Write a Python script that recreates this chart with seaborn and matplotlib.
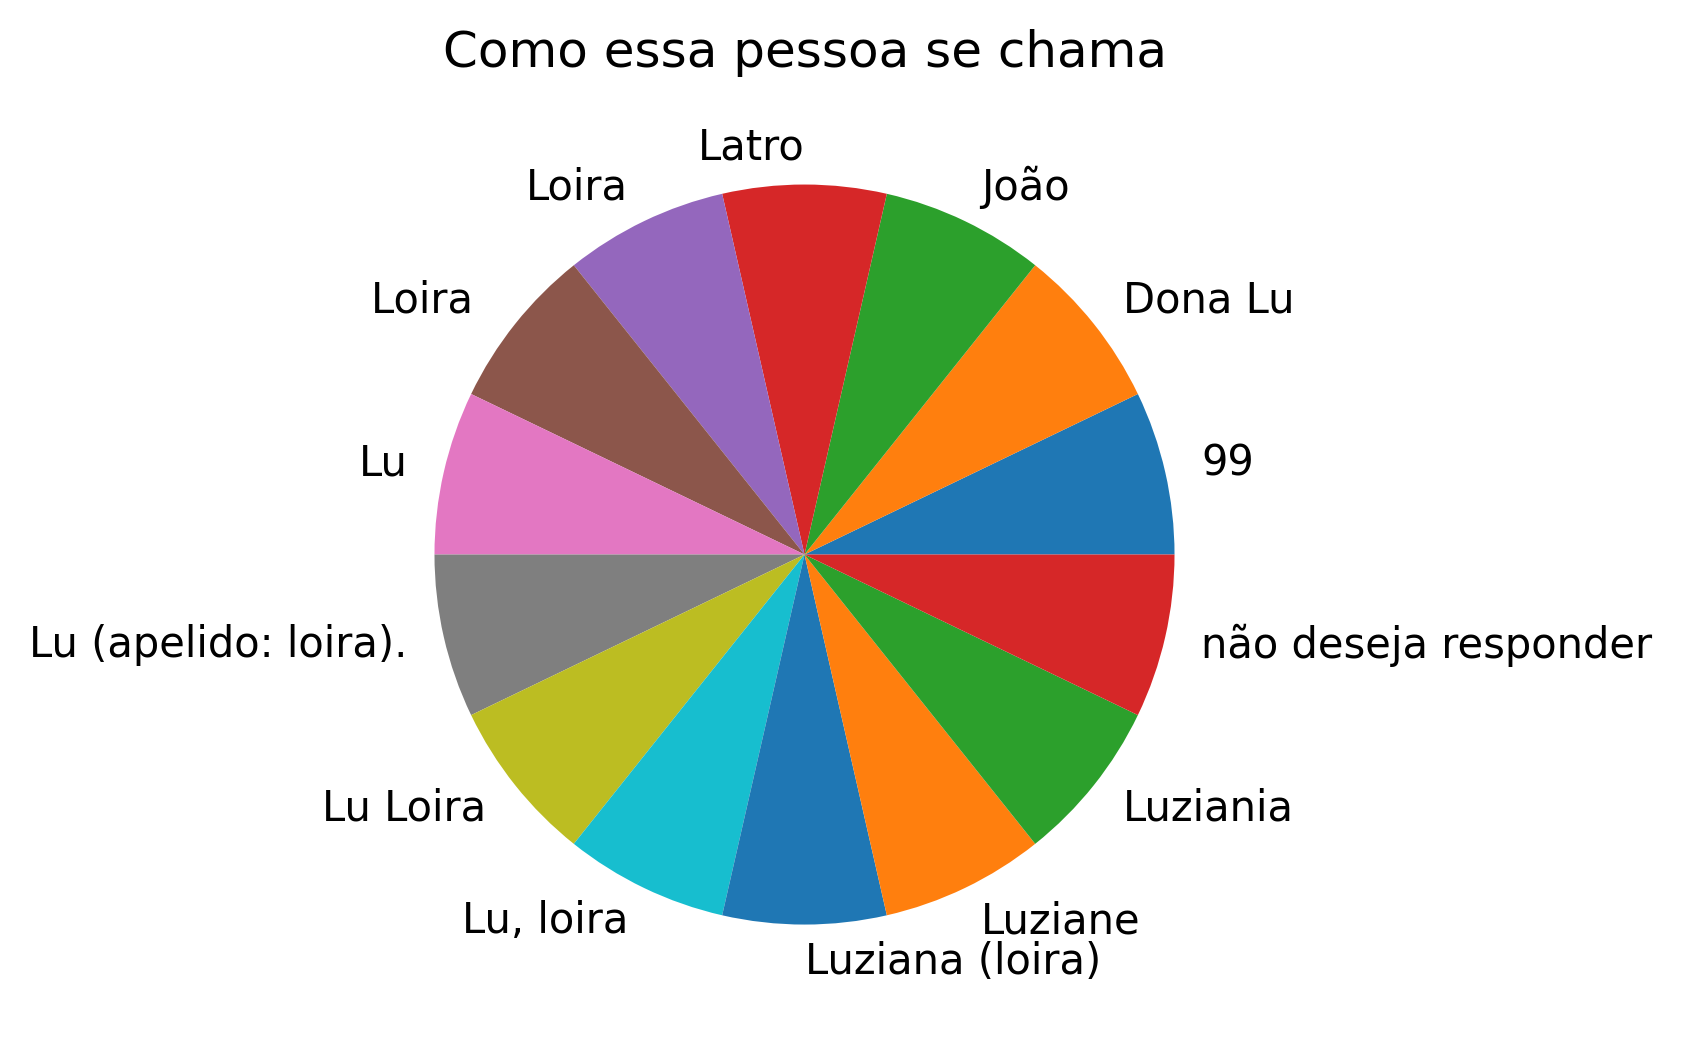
import matplotlib
matplotlib.use("Agg")
import matplotlib.pyplot as plt
import seaborn as sns

# Respostas (uma resposta para cada nome); o segundo "Loira " tem espaço no fim
nomes = ['99', 'Dona Lu', 'João', 'Latro', 'Loira', 'Loira ', 'Lu',
         'Lu (apelido: loira).', 'Lu Loira', 'Lu, loira', 'Luziana (loira)',
         'Luziane', 'Luziania', 'não deseja responder']
contagens = [1, 1, 1, 1, 1, 1, 1, 1, 1, 1, 1, 1, 1, 1]

cores = sns.color_palette("tab10", 10)
cores = [cores[i % 10] for i in range(len(nomes))]

fig = plt.figure(figsize=(1682 / 250, 1047 / 250), dpi=250)
ax = fig.add_axes([0.2033, 0.0286, 0.55, 0.8835])
ax.pie(contagens, labels=nomes, colors=cores, textprops={'fontsize': 12})
ax.set_title("Como essa pessoa se chama", fontsize=14.4, pad=7.2)

plt.savefig("out.png", dpi=250)
